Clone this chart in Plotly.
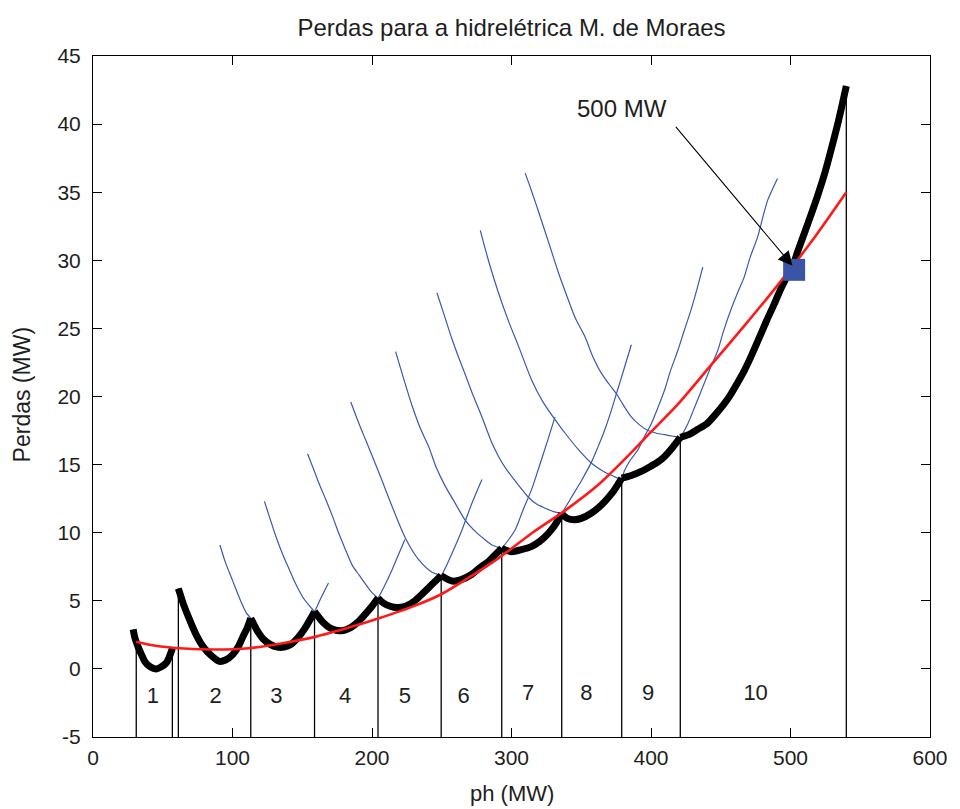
import plotly.graph_objects as go

# ---------------- data ----------------
# loss curves for k units in operation (x = ph in MW, y = losses in MW)
c1_x = [28.8, 30.0, 32.4, 35.0, 37.1, 41.0, 45.5, 49.0, 52.6, 55.0, 56.9]
c1_y = [2.9, 2.3, 1.6, 1.0, 0.55, 0.15, 0.0, 0.15, 0.45, 0.95, 1.5]

c2_x = [61.2, 65, 69.3, 74, 78.8, 85, 90.7, 95, 100.2, 104, 107.4, 110.5, 113.1]
c2_y = [5.9, 4.7, 3.6, 2.5, 1.65, 0.95, 0.55, 0.65, 1.05, 1.6, 2.35, 3.0, 3.72]

c3_x = [91, 95, 100, 105, 110, 113.1, 118, 122, 127, 132, 137, 142, 147, 152, 158.8, 163.4, 168.8]
c3_y = [9.1, 7.8, 6.5, 5.2, 4.1, 3.72, 2.75, 2.2, 1.8, 1.6, 1.6, 1.8, 2.3, 3.0, 4.2, 5.2, 6.3]

c4_x = [122.9, 127, 131.2, 136, 140.7, 145, 150.2, 155, 158.8, 165, 170, 178, 185, 190, 195, 200,
        204.3, 209, 214.5, 219, 223.6]
c4_y = [12.3, 11.0, 9.7, 8.4, 7.3, 6.3, 5.3, 4.65, 4.2, 3.4, 3.0, 2.8, 3.05, 3.45, 4.0, 4.6,
        5.2, 6.1, 7.3, 8.4, 9.5]

c5_x = [153.8, 158, 162.1, 167, 171.7, 176.4, 181.2, 185.9, 190.7, 195.5, 200, 204.3, 208, 213,
        218, 224, 230, 236, 242, 249.6, 257.4, 264.5, 271, 278.8]
c5_y = [15.8, 14.7, 13.6, 12.4, 11.2, 9.9, 8.7, 7.6, 6.9, 6.2, 5.6, 5.2, 4.85, 4.6,
        4.5, 4.6, 4.95, 5.5, 6.1, 6.85, 8.5, 10.2, 12.0, 13.9]

c6_x = [184.8, 190.7, 195.5, 205, 214.5, 224, 233.6, 243, 249.6, 257.4, 264, 271.6, 277, 283.6,
        288, 293, 298, 302.6, 308, 314.5, 320, 326, 331.2]
c6_y = [19.6, 18.0, 16.8, 14.4, 11.9, 9.6, 8.0, 7.1, 6.85, 6.45, 6.55, 6.95, 7.4, 7.9,
        8.35, 8.85, 9.5, 10.2, 11.6, 13.2, 14.9, 16.8, 18.5]

c7_x = [216.9, 223, 228.8, 234.5, 240.7, 246, 252.6, 260, 266.9, 274, 281.2, 286, 293, 300.2,
        307, 314.5, 320, 324.1, 330, 336, 343, 350, 357.4, 362, 367, 371, 375.2, 380, 385.9]
c7_y = [23.3, 21.2, 19.3, 17.7, 16.3, 14.8, 13.4, 12.1, 10.9, 10.1, 9.47, 9.1, 8.85, 8.6,
        8.75, 9.0, 9.35, 9.7, 10.4, 11.4, 12.6, 13.8, 15.2, 16.3, 17.6, 18.8, 20.2, 21.8, 23.8]

c8_x = [246.6, 252, 257.4, 262, 266.9, 272, 278.8, 285.9, 290.7, 296, 302.6, 308, 312.1, 318,
        324.1, 330, 336, 340, 345, 350, 357.4, 363, 367, 372, 376, 379, 381.2, 385, 390.7, 395,
        400.2, 405, 409.8, 414, 419.3, 424, 428.8, 433, 437.1]
c8_y = [27.6, 25.9, 24.2, 22.9, 21.6, 20.2, 18.5, 16.6, 15.6, 14.7, 13.8, 13.1, 12.6, 12.1,
        11.8, 11.55, 11.4, 11.05, 10.95, 11.05, 11.45, 11.9, 12.3, 12.9, 13.5, 14.0, 14.6, 15.3,
        16.1, 17.0, 18.0, 19.2, 20.5, 21.9, 23.4, 24.9, 26.4, 27.9, 29.5]

c9_x = [277.6, 284, 290.7, 298, 305, 314.5, 322, 331.2, 340, 348, 357.4, 366, 372, 376.4, 379,
        385.9, 393, 400.2, 405, 409.8, 415, 421, 426.4, 432, 438.3, 443, 447.9, 452, 457.4, 462,
        466.9, 471, 476.4, 480, 483.6, 487, 490.7]
c9_y = [32.2, 29.8, 27.6, 25.5, 23.7, 21.2, 19.7, 18.3, 17.1, 16.1, 15.1, 14.5, 14.2, 14.0, 14.0,
        14.2, 14.5, 14.9, 15.2, 15.6, 16.2, 17.0, 18.0, 19.4, 21.0, 22.2, 23.4, 24.8, 26.4, 27.6,
        28.8, 30.2, 31.7, 33.1, 34.4, 35.2, 36.0]

c10_x = [309.8, 314, 319.3, 327.6, 333.6, 340.7, 346, 352.6, 358, 364.5, 370, 375.2, 380, 385.9,
         392, 397.9, 404, 409.8, 415, 421, 427, 433.6, 440, 445.5, 452, 457.4, 462, 466.9, 472,
         478.8, 483, 488.4, 493, 497.9, 502, 505, 512.1, 519.3, 524, 528.8, 533.6, 537, 540]
c10_y = [36.4, 35.2, 33.6, 31.0, 29.1, 27.1, 25.7, 24.4, 23.0, 21.7, 20.9, 20.2, 19.4, 18.5,
         17.9, 17.5, 17.3, 17.2, 17.1, 17.0, 17.2, 17.6, 18.0, 18.6, 19.4, 20.2, 21.0, 21.9, 23.0,
         24.6, 25.6, 26.8, 27.9, 28.9, 29.7, 30.6, 32.6, 34.7, 36.2, 38.0, 39.9, 41.4, 42.8]

# operating range (segment) of each number of units
seg_start = [28.8, 61.2, 113.1, 158.8, 204.3, 249.6, 293, 336, 379, 421]
seg_end = [56.9, 113.1, 158.8, 204.3, 249.6, 293, 336, 379, 421, 540]

# quadratic fit (red)
fit_x = [31, 45, 62, 88, 112, 136, 160, 184, 205, 229, 250, 274, 291, 314.5, 338, 362, 386,
         400, 419, 443, 467, 491, 514.5, 540]
fit_y = [2.0, 1.7, 1.52, 1.42, 1.52, 1.89, 2.37, 3.05, 3.72, 4.57, 5.5, 7.0, 8.15, 9.96, 11.6,
         13.5, 15.9, 17.4, 19.4, 22.3, 25.2, 28.2, 31.3, 35.0]

# vertical lines at the transitions
trans_x = [31, 56.9, 61.2, 113.1, 158.8, 204.3, 249.6, 293, 336, 379, 421, 540]
trans_top = [1.9, 1.5, 5.9, 3.72, 4.2, 5.2, 6.85, 8.85, 11.4, 14.0, 17.0, 42.8]

# labels with number of units
lab_text = ["1", "2", "3", "4", "5", "6", "7", "8", "9", "10"]
lab_x = [42.9, 87.9, 131.4, 180.7, 223.6, 265.7, 312, 353.6, 397.9, 475]
lab_y = [-2.1, -2.1, -2.1, -2.1, -2.1, -2.1, -1.9, -1.9, -1.9, -1.9]

# axis ticks
x_ticks = [0, 100, 200, 300, 400, 500, 600]
y_ticks = [-5, 0, 5, 10, 15, 20, 25, 30, 35, 40, 45]
y_tick_text = ["-5", "0", "5", "10", "15", "20", "25", "30", "35", "40", "45"]

# highlighted point
pt_x = [502.6]
pt_y = [29.3]
arrow_tail = (416.9, 39.9)
arrow_text_pos = (378.9, 41.15)

curves_x = [c1_x, c2_x, c3_x, c4_x, c5_x, c6_x, c7_x, c8_x, c9_x, c10_x]
curves_y = [c1_y, c2_y, c3_y, c4_y, c5_y, c6_y, c7_y, c8_y, c9_y, c10_y]

FONT = "Liberation Sans, Arial, sans-serif"
BLUE = "#3a58ad"
TXT = "#1e1e1e"

fig = go.Figure()

# blue full curves
for cx, cy in zip(curves_x, curves_y):
    fig.add_trace(go.Scatter(x=cx, y=cy, mode="lines",
                             line=dict(color=BLUE, width=1.2, shape="spline", smoothing=0.8),
                             hoverinfo="skip", showlegend=False))

# black optimal envelope (segment of each curve)
for cx, cy, lo, hi in zip(curves_x, curves_y, seg_start, seg_end):
    sx = [x for x in cx if lo - 1e-9 <= x <= hi + 1e-9]
    sy = [y for x, y in zip(cx, cy) if lo - 1e-9 <= x <= hi + 1e-9]
    fig.add_trace(go.Scatter(x=sx, y=sy, mode="lines",
                             line=dict(color="black", width=7, shape="spline", smoothing=0.8),
                             hoverinfo="skip", showlegend=False))

# vertical transition lines
vx, vy = [], []
for x, t in zip(trans_x, trans_top):
    vx += [x, x, None]
    vy += [-5, t, None]
fig.add_trace(go.Scatter(x=vx, y=vy, mode="lines", line=dict(color="black", width=1.3),
                         hoverinfo="skip", showlegend=False))

# red fit
fig.add_trace(go.Scatter(x=fit_x, y=fit_y, mode="lines",
                         line=dict(color="#ff1a1a", width=2.6, shape="spline", smoothing=0.8),
                         hoverinfo="skip", showlegend=False))

# unit count labels
fig.add_trace(go.Scatter(x=lab_x, y=lab_y, mode="text", text=lab_text,
                         textfont=dict(family=FONT, size=22, color=TXT),
                         hoverinfo="skip", showlegend=False))

# highlighted point
fig.add_trace(go.Scatter(x=pt_x, y=pt_y, mode="markers",
                         marker=dict(symbol="square", size=22, color="#3a55a6",
                                     line=dict(width=0)),
                         hoverinfo="skip", showlegend=False))

fig.add_annotation(x=pt_x[0] - 1.2, y=pt_y[0] + 0.3, ax=arrow_tail[0], ay=arrow_tail[1],
                   axref="x", ayref="y", xref="x", yref="y", text="", showarrow=True,
                   arrowhead=2, arrowsize=2.6, arrowwidth=1.1, arrowcolor="black")
fig.add_annotation(x=arrow_text_pos[0], y=arrow_text_pos[1], xref="x", yref="y",
                   text="500 MW", showarrow=False,
                   font=dict(family=FONT, size=24, color=TXT))

# axis titles
fig.add_annotation(x=0.5, y=-0.083, xref="paper", yref="paper", text="ph (MW)",
                   showarrow=False, yanchor="middle",
                   font=dict(family=FONT, size=22, color=TXT))
fig.add_annotation(x=-0.0845, y=0.502, xref="paper", yref="paper", text="Perdas (MW)",
                   showarrow=False, textangle=-90, xanchor="center", yanchor="middle",
                   font=dict(family=FONT, size=23, color=TXT))

axis_common = dict(showgrid=False, zeroline=False, showline=True, linecolor="black",
                   linewidth=1, mirror="ticks", ticks="inside", ticklen=9, tickwidth=1,
                   tickcolor="black", tickfont=dict(family=FONT, size=21, color=TXT))

fig.update_layout(
    width=960, height=809, autosize=False,
    margin=dict(l=93, r=27, t=56, b=72),
    paper_bgcolor="white", plot_bgcolor="white",
    title=dict(text="Perdas para a hidrelétrica M. de Moraes", xref="paper", x=0.5,
               yref="container", y=1 - 28 / 809, yanchor="middle", xanchor="center",
               font=dict(family=FONT, size=24, color=TXT)),
    xaxis=dict(range=[0, 600], tickvals=x_ticks, ticklabelstandoff=2, **axis_common),
    yaxis=dict(range=[-5, 45], tickvals=y_ticks, ticktext=y_tick_text,
               ticklabelstandoff=7, **axis_common),
)

fig.write_html("out.html")
